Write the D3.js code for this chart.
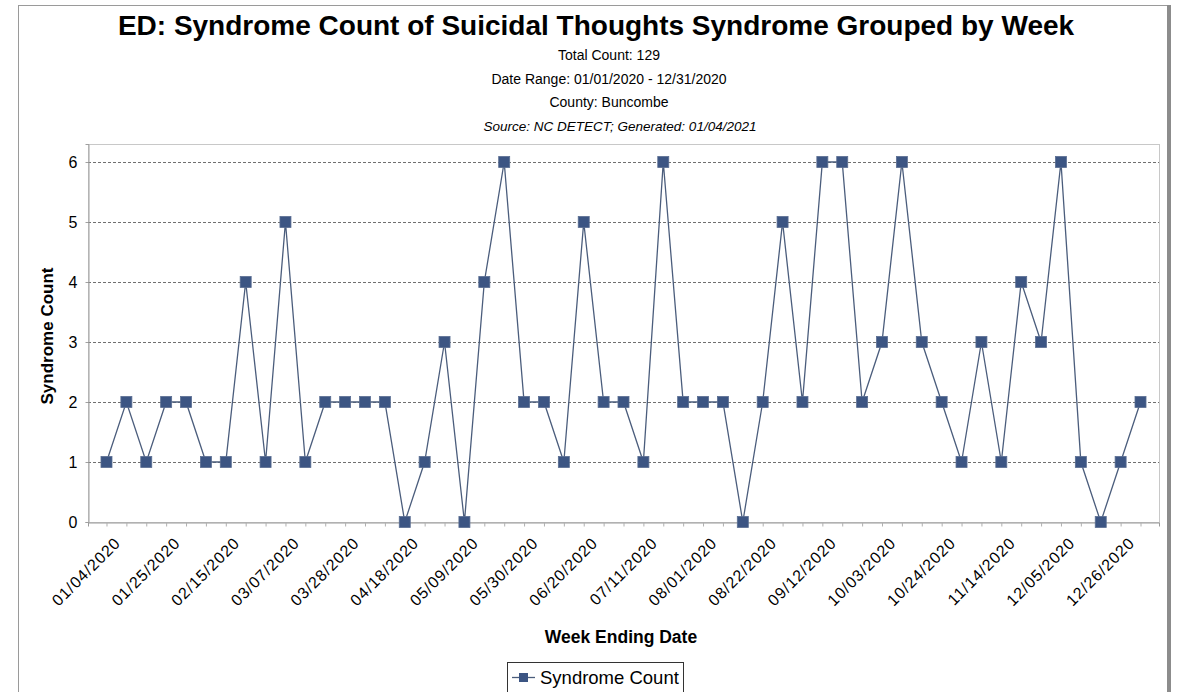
<!DOCTYPE html>
<html>
<head>
<meta charset="utf-8">
<script src="https://cdn.jsdelivr.net/npm/d3@7"></script>
<style>
  body { margin: 0; background: #fff; }
  svg text { font-family: "Liberation Sans", Arial, sans-serif; fill: #000; }
</style>
</head>
<body>
<svg id="chart" width="1178" height="692"></svg>
<script>
var weeks = ['01/04/2020', '01/11/2020', '01/18/2020', '01/25/2020', '02/01/2020', '02/08/2020',
  '02/15/2020', '02/22/2020', '02/29/2020', '03/07/2020', '03/14/2020', '03/21/2020',
  '03/28/2020', '04/04/2020', '04/11/2020', '04/18/2020', '04/25/2020', '05/02/2020',
  '05/09/2020', '05/16/2020', '05/23/2020', '05/30/2020', '06/06/2020', '06/13/2020',
  '06/20/2020', '06/27/2020', '07/04/2020', '07/11/2020', '07/18/2020', '07/25/2020',
  '08/01/2020', '08/08/2020', '08/15/2020', '08/22/2020', '08/29/2020', '09/05/2020',
  '09/12/2020', '09/19/2020', '09/26/2020', '10/03/2020', '10/10/2020', '10/17/2020',
  '10/24/2020', '10/31/2020', '11/07/2020', '11/14/2020', '11/21/2020', '11/28/2020',
  '12/05/2020', '12/12/2020', '12/19/2020', '12/26/2020', '01/02/2021'];

var counts = [1, 2, 1, 2, 2, 1, 1, 4, 1, 5, 1, 2, 2, 2, 2, 0, 1, 3, 0, 4, 6, 2, 2, 1, 5, 2,
  2, 1, 6, 2, 2, 2, 0, 2, 5, 2, 6, 6, 2, 3, 6, 3, 2, 1, 3, 1, 4, 3, 6, 1, 0, 1, 2];

var yTicks = [0, 1, 2, 3, 4, 5, 6];

var titleText = 'ED: Syndrome Count of Suicidal Thoughts Syndrome Grouped by Week';
var subtitles = ['Total Count: 129', 'Date Range: 01/01/2020 - 12/31/2020', 'County: Buncombe'];
var sourceText = 'Source: NC DETECT; Generated: 01/04/2021';

var svg = d3.select('#chart');
var lineColor = '#4b5d7c';
var markColor = '#3c5583';

// outer frame
svg.append('line').attr('x1', 18.5).attr('x2', 18.5).attr('y1', 5).attr('y2', 692)
  .attr('stroke', '#9a9a9a').attr('stroke-width', 1);
svg.append('line').attr('x1', 18).attr('x2', 1170).attr('y1', 5.5).attr('y2', 5.5)
  .attr('stroke', '#9a9a9a').attr('stroke-width', 1);
svg.append('rect').attr('x', 1167).attr('y', 5).attr('width', 4).attr('height', 687)
  .attr('fill', '#8c8c8c');

// titles
svg.append('text')
  .attr('x', 596).attr('y', 35)
  .attr('text-anchor', 'middle')
  .style('font-size', '28px').style('font-weight', 'bold')
  .text(titleText);

svg.selectAll('text.sub')
  .data(subtitles)
  .enter()
  .append('text')
  .attr('class', 'sub')
  .attr('x', 609)
  .attr('y', function(d, i) { return 60 + i * 23.5; })
  .attr('text-anchor', 'middle')
  .style('font-size', '14px')
  .text(function(d) { return d; });

svg.append('text')
  .attr('x', 620).attr('y', 131)
  .attr('text-anchor', 'middle')
  .style('font-size', '13.5px').style('font-style', 'italic')
  .text(sourceText);

// plot area
var plotLeft = 88, plotRight = 1159, plotTop = 144, plotBottom = 522;

var x = d3.scalePoint()
  .domain(weeks)
  .range([plotLeft, plotRight])
  .padding(0.93);

var y = d3.scaleLinear()
  .domain([0, 6.3])
  .range([plotBottom, plotTop]);

svg.append('rect')
  .attr('x', plotLeft + 0.5).attr('y', plotTop + 0.5)
  .attr('width', plotRight - plotLeft).attr('height', plotBottom - plotTop)
  .attr('fill', '#fff')
  .attr('stroke', '#c8c8c8');

// grid
svg.append('g')
  .selectAll('line')
  .data(yTicks.filter(function(d) { return d > 0; }))
  .enter()
  .append('line')
  .attr('x1', plotLeft).attr('x2', plotRight)
  .attr('y1', function(d) { return Math.round(y(d)) + 0.5; })
  .attr('y2', function(d) { return Math.round(y(d)) + 0.5; })
  .attr('stroke', '#707070')
  .attr('stroke-dasharray', '3,2')
  .attr('stroke-width', 1);

// y axis
var yAxis = svg.append('g')
  .attr('transform', 'translate(' + (plotLeft + 0.5) + ',0)')
  .call(d3.axisLeft(y).tickValues(yTicks).tickFormat(d3.format('d')).tickSize(3).tickPadding(8));
yAxis.select('.domain').attr('stroke', '#a0a0a0');
yAxis.selectAll('.tick line').attr('stroke', '#a0a0a0');
yAxis.selectAll('text').style('font-size', '16px').attr('fill', '#000');

svg.append('text')
  .attr('transform', 'translate(53,' + ((plotTop + plotBottom) / 2 + 3) + ') rotate(-90)')
  .attr('text-anchor', 'middle')
  .style('font-size', '17px').style('font-weight', 'bold')
  .text('Syndrome Count');

// x axis
var xAxis = svg.append('g')
  .attr('transform', 'translate(0,' + (plotBottom + 0.5) + ')')
  .call(d3.axisBottom(x).tickSize(4).tickFormat(''));
xAxis.select('.domain').attr('stroke', '#9a9a9a');
xAxis.selectAll('.tick line').attr('stroke', '#b0b0b0');

svg.append('g')
  .selectAll('text')
  .data(weeks.filter(function(d, i) { return i % 3 === 0 && i < 52; }))
  .enter()
  .append('text')
  .attr('transform', function(d) {
    return 'translate(' + (x(d) + 15) + ',' + (plotBottom + 22) + ') rotate(-45)';
  })
  .attr('text-anchor', 'end')
  .style('font-size', '16px')
  .style('letter-spacing', '0.9px')
  .text(function(d) { return d; });

svg.append('text')
  .attr('x', 621).attr('y', 643)
  .attr('text-anchor', 'middle')
  .style('font-size', '17.5px').style('font-weight', 'bold')
  .text('Week Ending Date');

// series
var line = d3.line()
  .x(function(d, i) { return x(weeks[i]); })
  .y(function(d) { return y(d); });

svg.append('path')
  .datum(counts)
  .attr('d', line)
  .attr('fill', 'none')
  .attr('stroke', lineColor)
  .attr('stroke-width', 1.3);

svg.append('g')
  .selectAll('rect')
  .data(counts)
  .enter()
  .append('rect')
  .attr('x', function(d, i) { return x(weeks[i]) - 5.5; })
  .attr('y', function(d) { return y(d) - 5.5; })
  .attr('width', 11).attr('height', 11)
  .attr('fill', markColor)
  .attr('stroke', '#5a6e92')
  .attr('stroke-width', 0.8);

// legend
var legend = svg.append('g').attr('transform', 'translate(507,662)');
legend.append('rect')
  .attr('x', 0.5).attr('y', 0.5)
  .attr('width', 176).attr('height', 34)
  .attr('fill', '#fff')
  .attr('stroke', '#333');
legend.append('line')
  .attr('x1', 5).attr('x2', 28).attr('y1', 15.5).attr('y2', 15.5)
  .attr('stroke', lineColor).attr('stroke-width', 1.3);
legend.append('rect')
  .attr('x', 12).attr('y', 11).attr('width', 9).attr('height', 9)
  .attr('fill', markColor);
legend.append('text')
  .attr('x', 33).attr('y', 22)
  .style('font-size', '18.5px')
  .text('Syndrome Count');
</script>
</body>
</html>
